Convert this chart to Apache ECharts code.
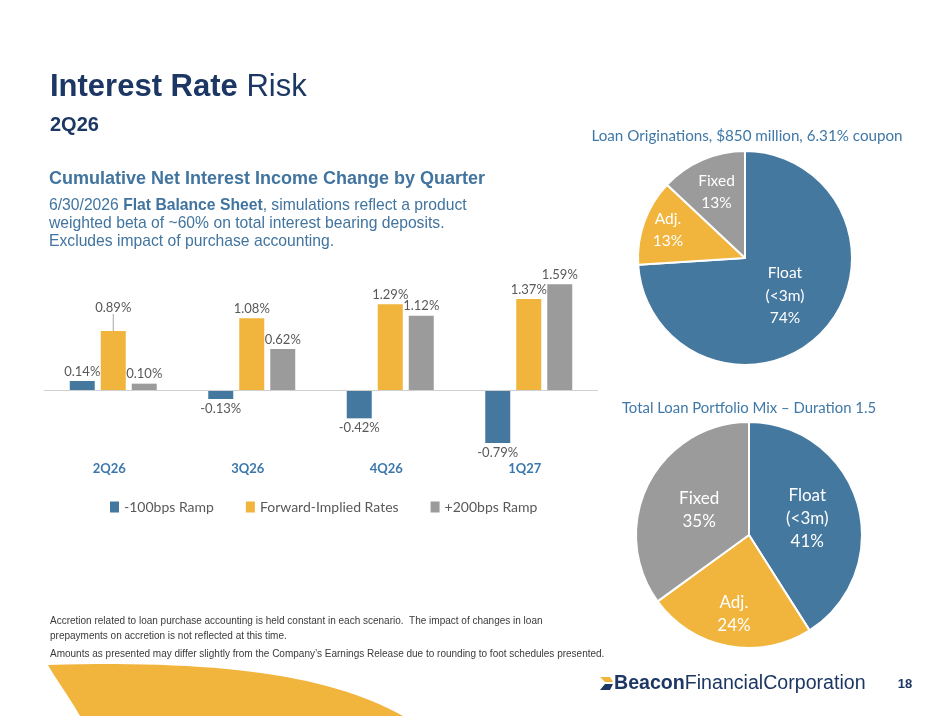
<!DOCTYPE html>
<html>
<head>
<meta charset="utf-8">
<script src="https://cdn.jsdelivr.net/npm/echarts@6/dist/echarts.min.js"></script>
<style>
html, body { margin: 0; padding: 0; background: #fff; }
#main { width: 941px; height: 727px; }
</style>
</head>
<body>
<div id="main"></div>
<script>
// bar chart data (cumulative NII change, %)
var quarters = ['2Q26', '3Q26', '4Q26', '1Q27'];
var scenarioNames = ['-100bps Ramp', 'Forward-Implied Rates', '+200bps Ramp'];
var down100 = [0.14, -0.13, -0.42, -0.79];
var forwardRates = [0.89, 1.08, 1.29, 1.37];
var up200 = [0.10, 0.62, 1.12, 1.59];

// pie data (%)
var originationNames = ['Float\n(<3m)', 'Adj.', 'Fixed'];
var originationValues = [74, 13, 13];
var mixNames = ['Float\n(<3m)', 'Adj.', 'Fixed'];
var mixValues = [41, 24, 35];

var BLUE = '#44789e', GOLD = '#f1b43c', GREY = '#9b9b9b';
var NAVY = '#1c3764', MIDBLUE = '#41749f';

function barSeries(name, values, color) {
	return {
		name: name,
		type: 'bar',
		barWidth: 25,
		barGap: '24%',
		itemStyle: { color: color },
		label: {
			show: true,
			distance: 3,
			color: '#595959',
			fontSize: 13,
			fontFamily: 'Lato',
			formatter: function (p) { return p.value.toFixed(2) + '%'; }
		},
		labelLine: { show: false, lineStyle: { color: '#a6a6a6', width: 1 } },
		data: values.map(function (v) {
			return { value: v, label: { position: v < 0 ? 'bottom' : 'top' } };
		})
	};
}

// labels of small slices sit further out than mid-radius
function pieSeries(names, values, center, radius, fontSize, lineHeight, pushOut) {
	var colors = [BLUE, GOLD, GREY];
	return {
		type: 'pie',
		center: center,
		radius: radius,
		startAngle: 90,
		clockwise: true,
		silent: true,
		avoidLabelOverlap: false,
		itemStyle: { borderColor: '#fff', borderWidth: 2 },
		label: {
			show: true,
			position: 'inside',
			color: '#fff',
			fontFamily: 'Lato',
			fontSize: fontSize,
			lineHeight: lineHeight,
			formatter: function (p) { return p.name + '\n' + p.value + '%'; }
		},
		labelLine: { show: false },
		labelLayout: function (p) {
			var r = p.labelRect;
			var k = pushOut[p.dataIndex] - 1;
			return {
				dx: (r.x + r.width / 2 - center[0]) * k,
				dy: (r.y + r.height / 2 - center[1]) * k
			};
		},
		data: names.map(function (n, i) {
			return { name: n, value: values[i], itemStyle: { color: colors[i] } };
		})
	};
}

var bars = [
	barSeries(scenarioNames[0], down100, BLUE),
	barSeries(scenarioNames[1], forwardRates, GOLD),
	barSeries(scenarioNames[2], up200, GREY)
];
bars[0].markLine = {
	silent: true,
	symbol: 'none',
	label: { show: false },
	lineStyle: { color: '#d0d0d0', type: 'solid', width: 1 },
	data: [{ yAxis: 0 }]
};
// 0.89% label is lifted with a leader line
bars[1].data[0].labelLine = { show: true };
bars[1].labelLayout = function (p) {
	if (p.dataIndex === 0) return { dy: -14 };
};

// decorative swoosh outline, sampled from two cubic curves
function cubic(p0, p1, p2, p3, n) {
	var out = [];
	for (var i = 0; i <= n; i++) {
		var t = i / n, u = 1 - t;
		out.push([
			u * u * u * p0[0] + 3 * u * u * t * p1[0] + 3 * u * t * t * p2[0] + t * t * t * p3[0],
			u * u * u * p0[1] + 3 * u * u * t * p1[1] + 3 * u * t * t * p2[1] + t * t * t * p3[1]
		]);
	}
	return out;
}
var swoosh = cubic([48, 665], [220, 660], [330, 675], [403, 716], 30)
	.concat(cubic([80, 716], [68, 695], [55, 678], [48, 665], 12));

var chart = echarts.init(document.getElementById('main'));

var option = {
	backgroundColor: '#fff',
	animation: false,
	color: [BLUE, GOLD, GREY],
	grid: { left: 44, width: 554, top: 257, height: 200 },
	xAxis: {
		type: 'category',
		data: quarters,
		axisLine: { show: false },
		axisTick: { show: false },
		axisLabel: {
			margin: 5,
			color: '#3b77ad',
			fontWeight: 'bold',
			fontSize: 13,
			fontFamily: 'Lato',
			padding: [0, 8, 0, 0]
		}
	},
	yAxis: {
		type: 'value',
		min: -1,
		max: 2,
		show: false
	},
	legend: {
		left: 105,
		top: 495,
		icon: 'rect',
		itemWidth: 9,
		itemHeight: 11,
		itemGap: 32,
		textStyle: { color: '#595959', fontSize: 14, fontFamily: 'Lato' },
		data: scenarioNames
	},
	series: bars.concat([
		pieSeries(originationNames, originationValues, [745, 258], 107, 15.5, 22.5, [0.97, 1.45, 1.27]),
		pieSeries(mixNames, mixValues, [749, 535], 113, 17, 23, [1.02, 1.35, 0.94])
	]),
	graphic: [
		{
			type: 'polygon', silent: true,
			shape: { points: swoosh },
			style: { fill: GOLD }
		},
		{
			type: 'text', x: 50, y: 87,
			style: {
				text: '{b|Interest Rate} Risk',
				fill: NAVY, font: '31px "Liberation Sans"', verticalAlign: 'middle',
				rich: { b: { fontWeight: 'bold', fontSize: 31, fontFamily: 'Liberation Sans', fill: NAVY } }
			}
		},
		{
			type: 'text', x: 50, y: 125,
			style: { text: '2Q26', fill: NAVY, font: 'bold 20px "Liberation Sans"', verticalAlign: 'middle' }
		},
		{
			type: 'text', x: 49, y: 179,
			style: { text: 'Cumulative Net Interest Income Change by Quarter', fill: MIDBLUE, font: 'bold 18px "Liberation Sans"', verticalAlign: 'middle' }
		},
		{
			type: 'text', x: 49, y: 196,
			style: {
				text: '6/30/2026 {b|Flat Balance Sheet}, simulations reflect a product\nweighted beta of ~60% on total interest bearing deposits.\nExcludes impact of purchase accounting.',
				fill: MIDBLUE, font: '15.7px "Liberation Sans"', lineHeight: 18.4,
				rich: { b: { fontWeight: 'bold', fontSize: 15.7, fontFamily: 'Liberation Sans', fill: MIDBLUE, lineHeight: 18.4 } }
			}
		},
		{
			type: 'text', x: 50, y: 614,
			style: {
				text: 'Accretion related to loan purchase accounting is held constant in each scenario.  The impact of changes in loan\nprepayments on accretion is not reflected at this time.',
				fill: '#3a3a3a', font: '10px "Liberation Sans"', lineHeight: 14.5
			}
		},
		{
			type: 'text', x: 50, y: 647,
			style: {
				text: 'Amounts as presented may differ slightly from the Company\u2019s Earnings Release due to rounding to foot schedules presented.',
				fill: '#3a3a3a', font: '10px "Liberation Sans"', lineHeight: 14.5
			}
		},
		{
			type: 'text', x: 747, y: 136,
			style: {
				text: 'Loan Originations, $850 million, 6.31% coupon',
				fill: '#3f78a6', font: '15.2px Lato', align: 'center', verticalAlign: 'middle'
			}
		},
		{
			type: 'text', x: 749, y: 408,
			style: {
				text: 'Total Loan Portfolio Mix \u2013 Duration 1.5',
				fill: '#3f78a6', font: '14.9px Lato', align: 'center', verticalAlign: 'middle'
			}
		},
		// logo mark
		{
			type: 'polygon', silent: true,
			shape: { points: [[600, 677], [610, 677], [613, 682], [605, 682]] },
			style: { fill: GOLD }
		},
		{
			type: 'polygon', silent: true,
			shape: { points: [[605, 684], [613, 684], [610, 690], [600, 690]] },
			style: { fill: NAVY }
		},
		{
			type: 'text', x: 614, y: 684,
			style: {
				text: '{b|Beacon}FinancialCorporation',
				fill: NAVY, font: '19.6px "Liberation Sans"', verticalAlign: 'middle',
				rich: { b: { fontWeight: 'bold', fontSize: 19.6, fontFamily: 'Liberation Sans', fill: NAVY } }
			}
		},
		{
			type: 'text', x: 905, y: 684,
			style: { text: '18', fill: NAVY, font: 'bold 13px "Liberation Sans"', align: 'center', verticalAlign: 'middle' }
		}
	]
};

chart.setOption(option);
</script>
</body>
</html>
